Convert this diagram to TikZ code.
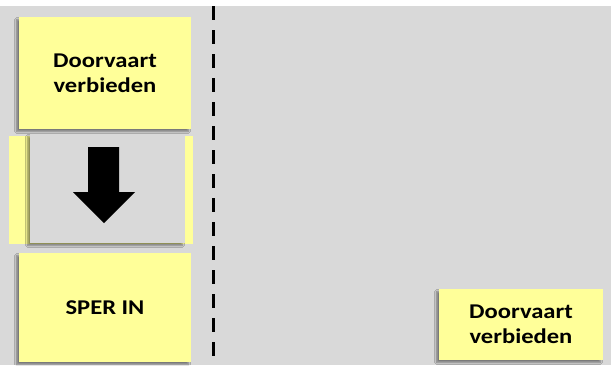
\documentclass[tikz,border=0pt]{standalone}
\usepackage{fontspec}
\setmainfont{Carlito}
\newfontfamily\notefont[FakeStretch=1.17]{Carlito}
\usetikzlibrary{shadows.blur}
\definecolor{bggray}{HTML}{D9D9D9}
\definecolor{noteyellow}{HTML}{FFFF99}
\tikzset{
  note/.style={fill=noteyellow, draw=none, inner sep=0pt, align=center,
    font=\notefont\fontsize{21}{25}\selectfont\bfseries,
    blur shadow={shadow xshift=-2.5pt, shadow yshift=-2.5pt, shadow blur steps=6, shadow opacity=45}},
  graybox/.style={fill=bggray, draw=none, inner sep=0pt,
    blur shadow={shadow xshift=-2.5pt, shadow yshift=-2.5pt, shadow blur steps=6, shadow opacity=45}},
  divider/.style={line width=3pt, dash pattern=on 14pt off 10pt}
}
\begin{document}
\begin{tikzpicture}[x=1pt,y=-1pt]
\useasboundingbox (0,0) rectangle (613,365);
\fill[white] (0,0) rectangle (613,365);
\fill[bggray] (0,6) rectangle (611,365);
% left column
\node[note, minimum width=172pt, minimum height=112pt] (top) at (105,73) {Doorvaart\\verbieden};
\node[fill=noteyellow, inner sep=0pt, minimum width=184pt, minimum height=108pt] (midy) at (101,190) {};
\node[graybox, minimum width=155pt, minimum height=109pt] (midg) at (107.5,188.5) {};
\fill[black] (88,147) -- (119,147) -- (119,192) -- (135,192) -- (104,223) -- (73,192) -- (88,192) -- cycle;
\node[note, minimum width=172pt, minimum height=109pt] (sper) at (105,307.5) {SPER IN};
% divider
\coordinate (dtop) at (213,6);
\coordinate (dbot) at (213,365);
\draw[divider] (dtop) -- (dbot);
% right note
\node[note, minimum width=164pt, minimum height=71pt] (right) at (521,324.5) {Doorvaart\\verbieden};
\end{tikzpicture}
\end{document}
